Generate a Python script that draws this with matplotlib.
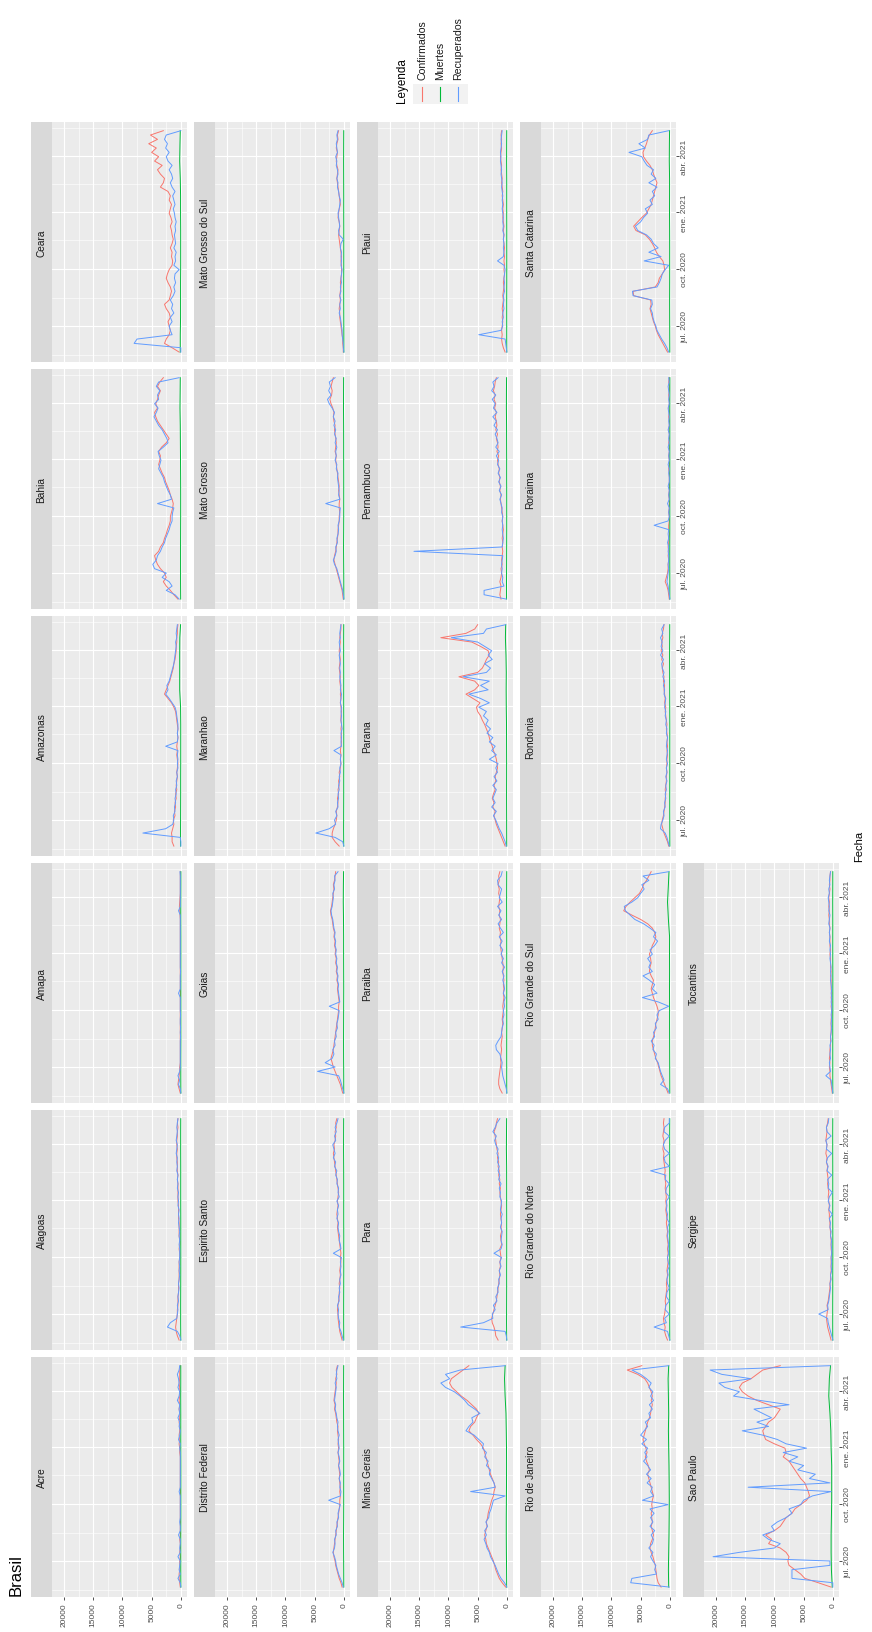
import matplotlib
matplotlib.use("Agg")
import matplotlib.pyplot as plt
import matplotlib.dates as mdates
from matplotlib.patches import Rectangle
from matplotlib.lines import Line2D
import numpy as np
import pandas as pd

plt.rcParams['font.family'] = ['Liberation Sans', 'DejaVu Sans']

# casos diarios, en miles, una muestra por semana
fechas = pd.date_range("2020-05-20", periods=52, freq="7D")
# muertes: una muestra cada 4 semanas + el ultimo dia
fechas_muertes = list(fechas[::4]) + [fechas[-1]]

series = ["Confirmados", "Muertes", "Recuperados"]
colores = ["#F8766D", "#00BA38", "#619CFF"]

conf_acre = [0.1,0.2,0.3,0.3,0.2,0.2,0.2,0.1,0.2,0.1,0.1,0.2,0.1,
             0.1,0.1,0.1,0.1,0.1,0.1,0.1,0.1,0.1,0.1,0.1,0.1,0.1,
             0.1,0.1,0.1,0.1,0.1,0.2,0.2,0.3,0.2,0.3,0.2,0.2,0.3,
             0.2,0.2,0.3,0.2,0.3,0.2,0.2,0.2,0.3,0.2,0.2,0.2,0.1]
rec_acre = [0.0,0.1,0.5,0.1,0.3,0.2,0.1,0.5,0.1,0.2,0.1,0.1,0.4,
            0.1,0.1,0.2,0.1,0.1,0.1,0.1,0.1,0.1,0.3,0.1,0.1,0.1,
            0.1,0.1,0.1,0.1,0.1,0.1,0.2,0.1,0.4,0.2,0.1,0.3,0.2,
            0.5,0.2,0.3,0.2,0.6,0.3,0.2,0.5,0.3,0.4,0.6,0.3,0.2]
muertes_acre = [0.0,0.01,0.01,0.01,0.0,0.0,0.0,0.0,0.01,0.01,0.01,0.02,0.01,0.01]

conf_alagoas = [0.3,0.6,0.8,0.9,0.8,0.7,0.6,0.6,0.5,0.5,0.5,0.4,0.4,
                0.4,0.3,0.3,0.3,0.3,0.3,0.2,0.2,0.3,0.2,0.2,0.3,0.3,
                0.3,0.3,0.4,0.4,0.4,0.4,0.5,0.5,0.5,0.5,0.5,0.6,0.5,
                0.6,0.6,0.6,0.7,0.7,0.6,0.7,0.7,0.6,0.6,0.5,0.6,0.5]
rec_alagoas = [0.0,0.2,0.6,2.3,1.8,0.7,0.6,0.5,0.6,0.4,0.5,0.4,0.3,
               0.4,0.3,0.2,0.3,0.2,0.3,0.2,0.2,0.2,0.3,0.2,0.3,0.2,
               0.3,0.4,0.3,0.4,0.3,0.5,0.4,0.5,0.4,0.6,0.5,0.6,0.5,
               0.7,0.6,0.7,0.6,0.8,0.7,0.6,0.8,0.7,0.6,0.7,0.6,0.5]
muertes_alagoas = [0.01,0.03,0.03,0.02,0.01,0.01,0.01,0.01,0.02,0.02,0.02,0.03,0.03,0.02]

conf_amapa = [0.1,0.3,0.5,0.4,0.3,0.2,0.2,0.1,0.1,0.1,0.1,0.1,0.1,
              0.1,0.1,0.1,0.1,0.1,0.1,0.1,0.1,0.1,0.1,0.1,0.1,0.1,
              0.1,0.1,0.1,0.1,0.1,0.1,0.1,0.1,0.1,0.1,0.1,0.1,0.1,
              0.1,0.1,0.15,0.2,0.25,0.2,0.15,0.1,0.1,0.1,0.1,0.1,0.1]
rec_amapa = [0.0,0.1,0.4,0.2,0.5,0.2,0.1,0.1,0.1,0.1,0.1,0.1,0.1,
             0.05,0.1,0.05,0.1,0.1,0.05,0.1,0.1,0.1,0.1,0.4,0.1,0.1,
             0.1,0.1,0.05,0.1,0.1,0.1,0.1,0.1,0.1,0.1,0.1,0.1,0.1,
             0.1,0.1,0.1,0.4,0.1,0.1,0.1,0.1,0.1,0.1,0.1,0.1,0.15]
muertes_amapa = [0.0,0.01,0.01,0.0,0.0,0.0,0.0,0.0,0.0,0.0,0.01,0.01,0.0,0.0]

conf_amazonas = [1.2,1.5,1.5,1.6,1.4,1.2,1.3,1.0,1.1,0.9,1.0,0.8,0.9,
                 0.7,0.8,0.7,0.6,0.7,0.6,0.5,0.6,0.7,0.6,0.7,0.6,0.5,
                 0.6,0.5,0.6,0.7,0.8,0.9,1.2,1.6,2.2,2.8,2.5,2.2,1.9,
                 1.7,1.5,1.3,1.2,1.0,0.9,0.8,0.8,0.7,0.7,0.6,0.6,0.5]
rec_amazonas = [0.0,0.0,0.1,6.5,2.6,1.4,1.2,1.3,1.0,1.1,0.9,1.0,0.8,
                0.9,0.7,0.8,0.6,0.7,0.5,0.6,0.5,0.6,0.5,2.6,0.6,0.5,
                0.6,0.5,0.5,0.6,0.7,0.8,1.0,1.5,2.0,2.6,2.2,2.4,2.0,
                1.8,1.6,1.4,1.2,1.1,1.0,0.9,0.8,0.9,0.7,0.8,0.7,0.6]
muertes_amazonas = [0.05,0.05,0.04,0.03,0.03,0.02,0.02,0.02,0.05,0.2,0.2,0.2,0.18,0.05]

conf_bahia = [0.5,1.2,1.8,2.5,3.0,2.5,2.8,3.5,4.0,4.3,4.5,3.8,3.5,
              3.0,2.8,2.5,2.3,2.0,1.8,1.8,1.6,1.4,1.3,1.5,1.8,2.0,
              2.3,2.6,2.8,3.2,3.5,3.8,3.6,3.5,3.8,3.3,2.5,2.0,2.5,
              3.0,3.5,4.0,4.3,4.5,4.0,4.3,4.0,3.8,3.5,4.0,3.6,3.0]
rec_bahia = [0.3,1.0,2.5,1.5,2.0,3.2,2.5,4.5,4.8,4.2,4.0,3.5,3.2,
             2.8,2.6,2.3,2.0,1.8,1.5,1.5,1.4,1.2,4.0,1.6,1.8,2.2,
             2.5,2.8,3.0,3.4,3.8,3.6,3.4,3.7,3.9,3.0,2.2,2.4,2.8,
             3.2,3.8,4.2,4.6,4.2,3.9,4.5,3.8,4.0,3.6,4.2,3.8,0.3]
muertes_bahia = [0.03,0.05,0.05,0.05,0.04,0.03,0.03,0.04,0.06,0.08,0.1,0.15,0.12,0.1]

conf_ceara = [0.3,1.5,2.8,2.5,2.0,1.8,2.0,2.2,1.8,2.0,2.5,2.8,2.0,
              1.8,1.6,1.8,2.2,2.5,2.3,2.0,1.5,1.4,1.6,1.5,1.8,1.5,
              1.3,1.5,1.6,1.8,1.5,1.7,2.0,1.8,1.6,2.0,1.8,2.2,3.5,
              3.0,2.8,3.5,4.0,3.2,4.5,3.8,5.0,4.2,5.5,4.0,5.2,3.0]
rec_ceara = [0.0,0.0,8.0,7.5,1.5,1.8,2.0,1.5,1.8,1.2,1.6,1.4,1.8,
             1.3,1.0,1.2,0.9,1.1,1.0,0.3,1.2,0.9,1.0,0.8,1.2,0.9,
             1.0,1.1,0.9,1.0,0.8,1.0,1.1,1.3,1.0,1.2,1.4,1.0,1.5,
             1.8,1.4,1.6,2.0,1.5,2.2,2.5,2.0,2.6,2.3,2.8,2.5,0.0]
muertes_ceara = [0.1,0.1,0.05,0.05,0.05,0.03,0.03,0.03,0.05,0.05,0.1,0.2,0.15,0.1]

conf_df = [0.3,0.5,0.8,1.0,1.2,1.4,1.5,1.7,1.8,1.7,1.6,1.5,1.4,
           1.3,1.2,1.1,1.0,0.9,0.8,0.7,0.7,0.6,0.7,0.6,0.7,0.8,
           0.7,0.8,0.9,0.8,0.9,1.0,0.9,1.0,0.9,1.0,1.1,1.0,1.2,
           1.3,1.4,1.6,1.5,1.7,1.6,1.5,1.4,1.3,1.4,1.2,1.3,1.1]
rec_df = [0.1,0.3,0.6,0.9,1.1,1.3,1.4,1.6,1.9,1.6,1.5,1.6,1.3,
          1.4,1.1,1.2,0.9,1.0,0.8,0.6,2.6,0.6,0.5,0.7,0.6,0.8,
          0.6,0.7,0.9,0.7,0.8,1.0,0.8,0.9,1.0,0.8,1.0,1.1,1.0,
          1.2,1.3,1.5,1.4,1.6,1.5,1.4,1.3,1.5,1.2,1.3,1.2,1.0]
muertes_df = [0.01,0.02,0.04,0.05,0.03,0.02,0.02,0.02,0.02,0.03,0.04,0.05,0.04,0.03]

conf_espirito_santo = [0.3,0.5,0.7,0.8,0.9,1.0,1.0,1.1,1.0,0.9,0.8,0.8,0.7,
                       0.8,0.7,0.6,0.7,0.6,0.5,0.6,0.5,0.6,0.7,0.8,0.9,1.0,
                       1.1,1.0,1.1,1.2,1.1,1.0,1.1,1.0,0.9,1.0,1.1,1.2,1.3,
                       1.4,1.5,1.6,1.7,1.8,1.6,1.7,1.5,1.4,1.5,1.3,1.4,1.2]
rec_espirito_santo = [0.1,0.3,0.5,0.8,0.7,0.9,1.0,0.9,1.1,0.8,0.9,0.7,0.8,
                      0.6,0.7,0.5,0.6,0.5,0.6,0.4,1.8,0.5,0.6,0.8,0.7,0.9,
                      1.0,0.9,1.2,1.0,1.1,0.9,1.2,0.8,1.0,0.9,1.2,1.1,1.4,
                      1.2,1.6,1.4,1.8,1.5,1.7,1.9,1.4,1.6,1.3,1.5,1.2,1.0]
muertes_espirito_santo = [0.01,0.03,0.03,0.02,0.01,0.01,0.01,0.02,0.02,0.02,0.03,0.05,0.04,0.03]

conf_goias = [0.2,0.4,0.6,0.9,1.2,1.5,1.8,2.0,2.2,2.0,1.8,1.7,1.6,
              1.5,1.4,1.3,1.2,1.1,1.0,0.9,0.9,0.8,0.9,1.0,1.1,1.0,
              1.2,1.1,1.3,1.2,1.4,1.3,1.5,1.4,1.6,1.5,1.7,1.6,1.8,
              1.9,2.0,2.2,2.3,2.1,2.0,1.9,1.8,1.7,1.8,1.6,1.5,1.4]
rec_goias = [0.0,0.2,0.4,0.6,0.9,4.5,1.5,3.2,2.0,1.7,1.9,1.5,1.6,
             1.3,1.4,1.1,1.2,1.0,0.9,0.8,2.5,0.7,0.8,0.9,1.0,0.9,
             1.1,1.0,1.2,1.1,1.3,1.2,1.4,1.3,1.5,1.4,1.6,1.5,1.7,
             1.8,1.9,2.1,2.2,2.0,1.9,1.8,1.9,1.6,1.7,1.5,1.6,1.0]
muertes_goias = [0.01,0.02,0.04,0.05,0.04,0.03,0.02,0.03,0.04,0.04,0.06,0.1,0.08,0.05]

conf_maranhao = [0.8,1.5,2.0,2.0,1.8,1.5,1.3,1.2,1.3,1.1,1.0,1.1,0.9,
                 1.0,0.8,0.9,0.7,0.8,0.6,0.5,0.6,0.5,0.6,0.5,0.4,0.5,
                 0.4,0.5,0.4,0.5,0.5,0.4,0.5,0.6,0.5,0.6,0.5,0.6,0.7,
                 0.6,0.7,0.8,0.7,0.6,0.7,0.8,0.7,0.6,0.7,0.6,0.5,0.5]
rec_maranhao = [0.0,0.2,1.5,4.8,2.5,1.4,1.6,1.2,1.4,1.0,1.1,0.9,1.0,
                0.8,0.9,0.7,0.8,0.6,0.7,0.5,0.6,0.5,1.7,0.4,0.5,0.4,
                0.5,0.3,0.4,0.5,0.4,0.5,0.4,0.6,0.5,0.4,0.6,0.5,0.6,
                0.7,0.6,0.7,0.6,0.7,0.8,0.6,0.7,0.8,0.6,0.7,0.6,0.5]
muertes_maranhao = [0.02,0.04,0.03,0.02,0.02,0.01,0.01,0.01,0.02,0.02,0.02,0.03,0.03,0.02]

conf_mato_grosso = [0.1,0.2,0.3,0.5,0.7,0.9,1.1,1.3,1.5,1.7,1.6,1.4,1.3,
                    1.2,1.1,1.0,1.0,0.9,0.8,0.8,0.7,0.8,0.8,0.7,0.8,0.9,
                    0.8,0.9,1.0,1.1,1.2,1.3,1.4,1.3,1.5,1.4,1.3,1.4,1.5,
                    1.6,1.5,1.7,1.8,1.7,1.9,2.2,2.4,2.1,2.0,2.2,2.0,1.8]
rec_mato_grosso = [0.0,0.1,0.2,0.4,0.6,0.8,1.0,1.2,1.6,1.8,1.5,1.3,1.4,
                   1.1,1.2,1.0,0.9,1.0,0.8,0.7,0.7,0.6,3.1,0.7,0.9,0.8,
                   0.9,1.0,1.1,1.0,1.3,1.2,1.5,1.3,1.4,1.2,1.5,1.3,1.6,
                   1.4,1.7,1.5,1.8,1.6,2.0,2.5,2.8,2.2,2.6,2.3,2.5,1.5]
muertes_mato_grosso = [0.0,0.01,0.03,0.05,0.03,0.02,0.02,0.02,0.03,0.03,0.04,0.06,0.05,0.04]

conf_mgds = [0.1,0.1,0.2,0.2,0.3,0.4,0.5,0.6,0.7,0.7,0.8,0.7,0.6,
             0.7,0.6,0.5,0.6,0.5,0.4,0.4,0.4,0.5,0.4,0.5,0.6,0.7,
             0.8,0.9,0.8,0.7,0.8,1.0,0.9,0.8,0.6,0.7,0.8,0.9,1.0,
             1.1,1.2,1.1,1.0,1.2,1.3,1.2,1.1,1.3,1.2,1.0,1.1,0.9]
rec_mgds = [0.0,0.1,0.1,0.2,0.3,0.3,0.4,0.5,0.6,0.8,0.6,0.7,0.5,
            0.7,0.5,0.6,0.4,0.5,0.4,0.3,0.5,0.4,0.5,0.4,0.6,0.5,
            0.1,0.8,0.9,0.7,0.8,0.9,1.0,0.8,0.7,0.6,0.8,0.9,1.1,
            1.0,1.2,1.0,1.1,1.3,1.2,1.4,1.1,1.2,1.3,1.1,1.2,1.0]
muertes_mgds = [0.0,0.0,0.01,0.02,0.02,0.01,0.01,0.01,0.02,0.02,0.03,0.04,0.03,0.02]

conf_minas = [0.2,0.8,1.3,1.6,1.9,2.1,2.3,2.6,2.9,3.2,3.5,3.6,3.8,
              3.6,3.4,3.5,3.3,3.2,3.0,2.8,2.6,2.3,2.2,2.0,2.2,2.5,
              2.8,3.0,3.2,3.4,3.6,3.8,4.0,4.5,5.2,5.8,6.5,6.2,5.5,
              5.2,4.8,5.2,6.0,6.8,7.8,8.6,9.4,9.8,9.5,8.5,7.5,6.5]
rec_minas = [0.0,0.4,1.0,1.4,1.7,2.0,2.4,2.8,3.0,3.4,3.6,3.9,3.5,
             3.8,3.3,3.6,3.1,3.0,2.7,2.5,2.3,0.3,6.2,2.0,2.2,2.6,
             3.0,2.8,3.5,3.2,3.8,3.5,4.2,4.0,4.8,5.6,7.0,6.5,5.8,
             6.0,4.6,5.5,6.6,7.2,8.0,9.0,10.5,11.3,9.8,10.5,8.0,0.3]
muertes_minas = [0.03,0.05,0.08,0.1,0.1,0.08,0.06,0.05,0.06,0.1,0.15,0.3,0.4,0.3]

conf_para = [1.5,1.9,2.0,2.2,2.5,2.6,2.4,2.2,2.0,1.8,1.7,1.6,1.5,
             1.4,1.3,1.2,1.3,1.1,1.2,1.0,1.1,1.2,0.9,1.0,1.1,0.9,
             1.0,0.9,1.0,1.1,1.0,0.9,1.0,1.1,1.2,1.1,1.3,1.2,1.4,
             1.3,1.5,1.4,1.6,1.5,1.7,1.8,1.9,2.0,2.2,1.9,1.8,1.6]
rec_para = [0.0,0.1,0.3,7.9,4.0,2.4,2.5,2.0,2.3,1.7,1.9,1.5,1.6,
            1.3,1.4,1.1,1.3,1.0,1.2,0.9,2.2,1.0,0.8,1.0,0.9,0.8,
            1.1,0.9,1.0,0.8,1.1,1.0,0.9,1.2,1.1,1.3,1.0,1.4,1.2,
            1.5,1.3,1.6,1.4,1.7,1.5,1.9,2.1,1.8,2.4,2.0,1.7,1.2]
muertes_para = [0.02,0.05,0.04,0.03,0.03,0.02,0.02,0.02,0.03,0.03,0.04,0.08,0.06,0.04]

conf_paraiba = [0.8,1.2,1.4,1.4,1.3,1.2,1.1,1.0,1.1,1.0,0.9,1.0,0.9,
                0.8,0.9,0.8,0.7,0.8,0.7,0.6,0.7,0.6,0.5,0.6,0.5,0.6,
                0.5,0.6,0.7,0.6,0.7,0.8,0.9,1.0,1.1,1.0,1.2,1.1,1.3,
                1.2,1.1,1.3,1.2,1.4,1.3,1.2,1.4,1.3,1.5,1.3,1.4,1.2]
rec_paraiba = [0.0,0.1,0.3,0.5,0.7,0.8,0.9,0.8,1.0,1.2,1.8,1.9,1.5,
               1.0,0.9,0.8,0.6,0.7,0.5,0.6,0.4,0.5,0.3,0.6,0.4,0.5,
               0.7,0.5,0.8,0.4,0.9,0.6,1.0,0.7,1.2,0.8,1.3,0.6,1.1,
               1.5,0.9,1.4,1.0,1.6,0.8,1.3,1.1,0.9,1.5,1.6,1.0,0.8]
muertes_paraiba = [0.01,0.02,0.02,0.02,0.01,0.01,0.01,0.01,0.02,0.02,0.03,0.04,0.03,0.02]

conf_parana = [0.3,0.6,0.9,1.2,1.5,1.8,2.0,2.2,2.0,2.4,2.2,2.5,2.3,
               2.0,2.2,1.9,2.0,1.8,1.6,1.7,1.8,2.0,2.3,2.5,2.8,3.0,
               3.2,3.5,3.8,4.2,4.5,5.0,5.2,4.6,5.8,7.0,5.5,4.8,5.5,
               8.2,5.0,4.2,3.8,3.5,3.0,3.2,4.5,6.0,11.3,7.0,5.5,5.0]
rec_parana = [0.1,0.3,0.6,0.9,1.3,1.6,1.9,2.3,1.8,2.6,2.0,2.4,2.1,
              1.8,2.4,1.7,2.2,1.6,1.9,1.5,3.0,1.8,2.6,2.0,3.0,2.4,
              3.4,2.8,3.6,3.2,4.0,3.5,4.8,3.0,4.5,6.5,3.2,4.5,3.0,
              7.5,3.5,2.8,3.8,2.5,3.2,2.6,3.8,5.0,9.5,4.0,3.5,0.2]
muertes_parana = [0.02,0.03,0.04,0.05,0.04,0.04,0.05,0.06,0.1,0.12,0.1,0.15,0.25,0.2]

conf_pernambuco = [1.0,1.2,1.1,1.0,1.2,1.0,0.9,1.0,0.8,0.9,0.8,0.7,0.8,
                   0.7,0.8,0.7,0.6,0.7,0.8,0.7,0.8,0.9,1.0,1.1,1.0,1.2,
                   1.1,1.3,1.2,1.4,1.3,1.5,1.6,1.4,1.7,1.5,1.6,1.8,1.6,
                   1.9,1.7,1.8,2.0,1.8,2.1,1.9,2.2,2.0,2.3,2.1,2.0,1.8]
rec_pernambuco = [0.1,3.9,3.9,0.5,0.8,0.7,0.9,0.8,0.9,0.8,0.7,15.9,0.8,
                  0.7,0.6,0.7,0.8,0.7,0.8,0.7,0.9,0.8,1.0,1.2,0.9,1.3,
                  1.0,1.4,1.1,1.5,1.2,1.6,1.4,1.8,1.3,1.9,1.5,1.7,2.0,
                  1.6,2.2,1.8,2.4,1.7,2.3,2.0,2.5,1.9,2.6,2.2,2.4,1.5]
muertes_pernambuco = [0.05,0.06,0.04,0.03,0.02,0.02,0.02,0.03,0.03,0.04,0.05,0.08,0.07,0.05]

conf_piaui = [0.3,0.6,0.8,0.9,0.8,0.9,0.8,0.7,0.8,0.7,0.8,0.7,0.6,
              0.7,0.6,0.5,0.6,0.5,0.4,0.5,0.4,0.5,0.4,0.5,0.4,0.5,
              0.6,0.5,0.6,0.5,0.6,0.7,0.6,0.7,0.6,0.7,0.8,0.7,0.8,
              0.9,0.8,0.9,1.0,0.9,1.0,1.1,1.0,0.9,1.0,0.9,1.0,0.9]
rec_piaui = [0.0,0.1,0.2,0.3,4.8,1.0,0.7,0.8,0.6,0.7,0.5,0.6,0.5,
             0.6,0.4,0.5,0.4,0.5,0.4,0.3,0.5,1.6,0.6,0.5,0.6,0.5,
             0.6,0.5,0.7,0.6,0.7,0.6,0.7,0.8,0.7,0.8,0.7,0.8,0.9,
             0.8,0.9,1.0,0.9,1.0,1.1,1.0,1.1,1.0,0.9,1.0,0.9,0.8]
muertes_piaui = [0.01,0.02,0.02,0.02,0.01,0.01,0.01,0.01,0.02,0.02,0.02,0.04,0.03,0.02]

conf_rio = [1.5,2.0,2.2,2.3,2.4,2.5,2.7,2.9,3.2,3.4,3.3,3.0,2.8,
            3.0,3.2,3.0,3.1,3.2,3.0,3.1,3.0,2.8,3.0,3.2,3.4,3.6,
            3.8,3.5,3.7,4.0,4.2,3.9,4.1,4.4,4.6,4.4,4.2,4.0,3.8,
            3.5,3.3,3.2,3.0,3.2,3.0,3.2,3.5,3.8,4.3,5.5,7.3,4.8]
rec_rio = [0.1,6.7,6.5,2.3,2.6,2.4,2.9,3.3,2.9,3.6,3.0,2.8,3.2,
           2.6,3.4,2.9,3.3,2.7,3.4,0.3,4.7,2.8,3.3,3.0,3.9,3.2,
           4.0,3.3,3.8,4.5,3.9,4.3,3.8,4.8,4.0,5.0,4.4,3.8,4.2,
           3.3,3.6,3.0,3.5,2.8,3.3,2.9,3.6,3.2,4.0,5.0,6.5,0.2]
muertes_rio = [0.2,0.25,0.2,0.15,0.12,0.1,0.12,0.15,0.2,0.25,0.2,0.25,0.3,0.2]

conf_rgn = [0.4,0.7,0.9,0.8,1.0,1.1,0.9,0.8,0.7,0.8,0.7,0.6,0.5,
            0.6,0.5,0.4,0.5,0.4,0.3,0.4,0.3,0.4,0.3,0.4,0.5,0.4,
            0.5,0.6,0.5,0.6,0.7,0.6,0.7,0.6,0.7,0.8,0.7,0.8,0.9,
            0.8,0.9,1.0,1.1,1.0,1.2,1.1,1.0,1.2,1.1,1.0,1.1,1.0]
rec_rgn = [0.0,0.2,0.4,2.7,0.6,0.9,0.1,0.8,0.7,0.1,0.6,0.5,0.1,
           0.4,0.5,0.3,0.4,0.1,0.3,0.4,0.2,0.3,0.2,0.3,0.4,0.3,
           0.4,0.1,0.5,0.4,0.6,0.5,0.6,0.1,0.7,0.6,0.1,0.8,0.7,
           3.3,0.1,0.8,1.0,0.1,0.9,1.1,0.8,0.1,1.0,0.9,0.1,0.1]
muertes_rgn = [0.01,0.02,0.02,0.01,0.01,0.01,0.01,0.01,0.02,0.02,0.02,0.03,0.03,0.02]

conf_rgs = [0.3,0.6,0.9,1.2,1.5,1.7,1.9,2.1,2.4,2.6,2.8,3.0,3.0,
            2.8,2.6,2.5,2.4,2.2,2.0,2.0,2.2,2.5,2.8,3.0,3.2,3.0,
            2.8,3.2,3.5,3.4,3.2,3.3,3.5,3.2,3.0,2.6,2.4,2.6,3.0,
            3.8,5.0,6.5,7.9,7.5,6.8,6.0,5.2,4.8,4.5,4.0,3.6,3.2]
rec_rgs = [0.1,0.4,1.6,1.0,1.3,1.6,1.8,2.0,2.5,2.3,2.9,2.7,3.2,
           2.6,2.8,2.3,2.5,2.0,2.2,1.8,0.2,2.0,4.7,2.2,3.0,2.6,
           3.5,4.6,3.0,3.6,3.3,3.8,3.0,3.4,2.6,2.1,2.8,2.4,3.4,
           4.5,6.0,6.8,7.6,7.8,6.5,5.5,5.0,4.4,4.8,3.6,4.6,0.2]
muertes_rgs = [0.01,0.02,0.03,0.04,0.05,0.05,0.06,0.05,0.06,0.05,0.25,0.4,0.25,0.15]

conf_rondonia = [0.2,0.4,0.7,1.0,1.2,1.4,1.3,1.1,1.0,0.9,0.8,0.8,0.7,
                 0.8,0.7,0.6,0.6,0.5,0.6,0.5,0.5,0.4,0.5,0.4,0.5,0.4,
                 0.5,0.6,0.5,0.6,0.7,0.8,0.7,0.9,0.8,0.9,1.0,0.9,1.1,
                 1.0,1.2,1.3,1.1,1.4,1.2,1.5,1.3,1.4,1.2,1.3,1.1,1.0]
rec_rondonia = [0.1,0.3,0.5,0.8,1.6,1.5,1.2,1.0,1.1,0.8,0.9,0.7,0.8,
                0.6,0.7,0.5,0.7,0.5,0.6,0.4,0.6,0.5,0.4,0.6,0.5,0.4,
                0.6,0.5,0.7,0.6,0.8,0.7,0.9,0.8,0.7,1.0,0.9,1.1,0.9,
                1.2,1.0,1.3,1.4,1.1,1.6,1.2,1.5,1.3,1.6,1.2,1.4,1.0]
muertes_rondonia = [0.0,0.01,0.02,0.02,0.01,0.01,0.01,0.01,0.02,0.03,0.04,0.05,0.03,0.02]

conf_roraima = [0.1,0.2,0.3,0.5,0.8,0.6,0.4,0.3,0.3,0.2,0.3,0.2,0.3,
                0.2,0.2,0.1,0.2,0.2,0.1,0.1,0.2,0.1,0.1,0.1,0.2,0.1,
                0.1,0.1,0.1,0.1,0.2,0.1,0.1,0.2,0.1,0.1,0.2,0.1,0.1,
                0.2,0.1,0.1,0.2,0.1,0.2,0.1,0.1,0.2,0.1,0.1,0.2,0.1]
rec_roraima = [0.0,0.1,0.2,0.3,0.5,0.4,0.3,0.2,0.3,0.2,0.2,0.3,0.2,
               0.4,0.2,0.3,0.2,2.7,0.3,0.1,0.2,0.1,0.4,0.1,0.2,0.1,
               0.3,0.1,0.1,0.2,0.1,0.3,0.1,0.2,0.1,0.3,0.1,0.2,0.1,
               0.3,0.1,0.2,0.1,0.2,0.3,0.1,0.2,0.1,0.2,0.3,0.1,0.2]
muertes_roraima = [0.0,0.0,0.01,0.01,0.0,0.0,0.0,0.0,0.0,0.0,0.0,0.01,0.0,0.0]

conf_santa_catarina = [0.4,0.8,1.2,1.6,2.0,2.3,2.5,2.8,3.0,3.2,3.4,3.2,3.3,
                       6.2,6.3,2.5,2.0,1.8,1.3,0.9,1.0,1.2,1.8,2.3,2.6,3.0,
                       3.5,4.2,5.8,6.2,5.5,4.8,4.0,3.6,3.2,3.0,2.8,2.6,2.4,
                       2.2,2.5,2.8,3.0,3.4,4.0,4.5,4.6,4.3,4.0,3.8,3.5,3.0]
rec_santa_catarina = [0.2,0.5,0.9,1.4,1.8,2.2,2.4,2.7,2.9,3.0,3.3,3.0,3.1,
                      6.3,6.4,2.2,1.8,1.5,1.3,0.8,0.2,4.4,1.5,3.6,2.0,2.8,
                      3.2,4.0,5.5,5.9,5.0,4.5,3.8,4.2,3.0,3.4,2.6,3.0,2.2,
                      3.6,2.4,3.2,2.8,3.9,4.4,4.8,7.0,4.2,5.3,3.8,3.6,0.2]
muertes_santa_catarina = [0.01,0.02,0.03,0.04,0.03,0.03,0.03,0.04,0.06,0.05,0.05,0.1,0.08,0.05]

conf_sao_paulo = [0.3,2.5,4.8,5.5,6.5,7.5,7.7,7.5,8.0,9.0,11.0,10.5,11.5,
                  10.0,9.0,8.5,8.0,7.0,6.5,5.5,4.5,4.0,4.2,4.5,4.8,5.5,
                  6.0,6.5,7.0,7.5,8.5,8.0,8.2,10.0,11.5,11.8,12.0,11.5,11.0,
                  10.0,9.5,9.0,11.0,13.0,14.5,15.5,16.0,15.5,14.0,13.0,12.0,9.0]
rec_sao_paulo = [0.0,0.0,7.0,7.0,7.0,0.5,0.5,20.5,16.0,10.0,9.0,11.0,12.0,
                 10.0,10.5,9.5,8.0,7.0,7.5,5.5,5.0,3.5,0.3,14.5,0.5,4.0,
                 3.0,6.0,5.0,7.5,6.0,8.5,4.5,8.0,9.5,12.0,15.5,11.0,13.0,
                 10.5,12.0,13.5,7.5,12.5,17.0,16.0,18.5,19.5,14.0,19.0,21.0,0.5]
muertes_sao_paulo = [0.1,0.25,0.3,0.3,0.25,0.2,0.2,0.2,0.3,0.35,0.5,0.7,0.6,0.4]

conf_sergipe = [0.3,0.5,0.7,0.9,1.0,1.1,1.0,0.9,1.0,0.8,0.7,0.6,0.5,
                0.5,0.4,0.4,0.3,0.3,0.3,0.3,0.2,0.3,0.3,0.3,0.4,0.4,
                0.5,0.5,0.6,0.6,0.7,0.6,0.7,0.8,0.7,0.8,0.9,0.8,0.9,
                1.0,0.9,1.1,1.0,1.2,1.1,1.0,1.2,1.1,1.0,1.1,0.9,0.8]
rec_sergipe = [0.0,0.2,0.4,0.6,0.8,0.9,2.4,0.8,0.9,0.7,0.6,0.5,0.4,
               0.5,0.3,0.4,0.2,0.3,0.2,0.3,0.2,0.2,0.3,0.2,0.4,0.3,
               0.5,0.4,0.6,0.1,0.7,0.5,0.8,0.6,0.1,0.8,0.7,0.9,0.2,
               1.0,0.8,1.1,0.9,0.2,1.1,1.0,1.2,0.3,1.0,1.1,0.8,0.7]
muertes_sergipe = [0.01,0.02,0.02,0.01,0.01,0.0,0.0,0.01,0.01,0.01,0.01,0.02,0.02,0.01]

conf_tocantins = [0.1,0.2,0.3,0.4,0.5,0.5,0.6,0.5,0.6,0.5,0.5,0.4,0.4,
                  0.4,0.3,0.3,0.3,0.3,0.2,0.2,0.3,0.2,0.3,0.2,0.3,0.3,
                  0.3,0.4,0.3,0.4,0.4,0.4,0.5,0.4,0.5,0.5,0.5,0.6,0.5,
                  0.6,0.6,0.7,0.6,0.7,0.6,0.7,0.6,0.5,0.6,0.5,0.5,0.4]
rec_tocantins = [0.0,0.1,0.2,0.3,1.2,0.4,0.5,0.6,0.4,0.5,0.4,0.5,0.3,
                 0.4,0.3,0.2,0.3,0.2,0.3,0.2,0.2,0.3,0.2,0.3,0.2,0.3,
                 0.4,0.3,0.4,0.3,0.4,0.5,0.4,0.5,0.4,0.6,0.5,0.6,0.5,
                 0.7,0.6,0.5,0.7,0.6,0.7,0.8,0.6,0.7,0.5,0.6,0.5,0.4]
muertes_tocantins = [0.0,0.01,0.01,0.01,0.01,0.0,0.0,0.0,0.01,0.01,0.01,0.02,0.01,0.01]

estados = [
    ("Acre", conf_acre, rec_acre, muertes_acre),
    ("Alagoas", conf_alagoas, rec_alagoas, muertes_alagoas),
    ("Amapa", conf_amapa, rec_amapa, muertes_amapa),
    ("Amazonas", conf_amazonas, rec_amazonas, muertes_amazonas),
    ("Bahia", conf_bahia, rec_bahia, muertes_bahia),
    ("Ceara", conf_ceara, rec_ceara, muertes_ceara),
    ("Distrito Federal", conf_df, rec_df, muertes_df),
    ("Espirito Santo", conf_espirito_santo, rec_espirito_santo, muertes_espirito_santo),
    ("Goias", conf_goias, rec_goias, muertes_goias),
    ("Maranhao", conf_maranhao, rec_maranhao, muertes_maranhao),
    ("Mato Grosso", conf_mato_grosso, rec_mato_grosso, muertes_mato_grosso),
    ("Mato Grosso do Sul", conf_mgds, rec_mgds, muertes_mgds),
    ("Minas Gerais", conf_minas, rec_minas, muertes_minas),
    ("Para", conf_para, rec_para, muertes_para),
    ("Paraiba", conf_paraiba, rec_paraiba, muertes_paraiba),
    ("Parana", conf_parana, rec_parana, muertes_parana),
    ("Pernambuco", conf_pernambuco, rec_pernambuco, muertes_pernambuco),
    ("Piaui", conf_piaui, rec_piaui, muertes_piaui),
    ("Rio de Janeiro", conf_rio, rec_rio, muertes_rio),
    ("Rio Grande do Norte", conf_rgn, rec_rgn, muertes_rgn),
    ("Rio Grande do Sul", conf_rgs, rec_rgs, muertes_rgs),
    ("Rondonia", conf_rondonia, rec_rondonia, muertes_rondonia),
    ("Roraima", conf_roraima, rec_roraima, muertes_roraima),
    ("Santa Catarina", conf_santa_catarina, rec_santa_catarina, muertes_santa_catarina),
    ("Sao Paulo", conf_sao_paulo, rec_sao_paulo, muertes_sao_paulo),
    ("Sergipe", conf_sergipe, rec_sergipe, muertes_sergipe),
    ("Tocantins", conf_tocantins, rec_tocantins, muertes_tocantins),
]

for nombre, c, r, m in estados:
    assert len(c) == 52 and len(r) == 52 and len(m) == 14, (nombre, len(c), len(r), len(m))

ticks_valor = [0, 5000, 10000, 15000, 20000]
ticks_fecha = ["2020-07-01", "2020-10-01", "2021-01-01", "2021-04-01"]
etiquetas_fecha = ["jul. 2020", "oct. 2020", "ene. 2021", "abr. 2021"]
minor_fecha = ["2020-05-16", "2020-08-16", "2020-11-16", "2021-02-15", "2021-05-16"]

# la figura es la version girada 90 grados de un facet_wrap de 5 x 6
W, H = 872, 1633
fig = plt.figure(figsize=(W / 100, H / 100), dpi=100)


def fx(px):
    return px / W


def fy(py):
    return 1 - py / H


d2n = lambda lst: mdates.date2num([pd.Timestamp(s) for s in lst])

for n, (nombre, conf, rec, muertes) in enumerate(estados):
    orow, ocol = divmod(n, 6)
    k = orow
    rr = 5 - ocol
    x0 = 31 + 163 * k
    y0 = 123 + 247 * rr

    strip = fig.add_axes([fx(x0), fy(y0 + 240), 21 / W, 240 / H])
    strip.set_facecolor("#D9D9D9")
    strip.set_xticks([])
    strip.set_yticks([])
    for s in strip.spines.values():
        s.set_visible(False)
    strip.text(0.5, 0.5, nombre, rotation=90, ha="center", va="center",
               fontsize=7.3, color="#1A1A1A", transform=strip.transAxes)

    ax = fig.add_axes([fx(x0 + 21), fy(y0 + 240), 135 / W, 240 / H])
    ax.set_facecolor("#EBEBEB")
    for s in ax.spines.values():
        s.set_visible(False)

    ax.plot(np.array(conf) * 1000, fechas, color=colores[0], lw=0.7)
    ax.plot(np.array(muertes) * 1000, fechas_muertes, color=colores[1], lw=0.7)
    ax.plot(np.array(rec) * 1000, fechas, color=colores[2], lw=0.7)

    ax.set_xlim(22050, -1050)
    ax.set_ylim(d2n(["2020-05-04", "2021-05-26"]))

    ax.set_xticks(ticks_valor)
    ax.set_xticklabels([str(v) for v in ticks_valor])
    ax.set_xticks([2500, 7500, 12500, 17500], minor=True)
    ax.set_yticks(d2n(ticks_fecha))
    ax.set_yticklabels(etiquetas_fecha)
    ax.set_yticks(d2n(minor_fecha), minor=True)

    ax.grid(True, which="major", color="white", lw=0.85)
    ax.grid(True, which="minor", color="white", lw=0.4)
    ax.set_axisbelow(True)

    ax.tick_params(which="both", length=0, labelbottom=False, labelleft=False,
                   bottom=False, left=False)
    if ocol == 0:
        ax.tick_params(axis="x", which="major", bottom=True, length=2.4, width=0.6,
                       color="#333333", labelbottom=True, labelrotation=90,
                       labelsize=6.0, labelcolor="#4D4D4D", pad=1.5)
    if orow == 4 or (orow == 3 and ocol >= 3):
        ax.tick_params(axis="y", which="major", right=True, length=2.4, width=0.6,
                       color="#333333", labelright=True, labelrotation=90,
                       labelsize=6.0, labelcolor="#4D4D4D", pad=1.5)
        for t in ax.get_yticklabels():
            t.set_verticalalignment("center")

# titulo y eje
fig.text(fx(16), fy(1596), "Brasil", rotation=90, ha="center", va="bottom",
         fontsize=12, color="black")
fig.text(fx(859), fy(846), "Fecha", rotation=90, ha="center", va="center",
         fontsize=8, color="black")

# leyenda
fig.text(fx(402), fy(103), "Leyenda", rotation=90, ha="center", va="bottom",
         fontsize=8.4, color="black")
fig.patches.append(Rectangle((fx(413), fy(105)), 55 / W, 20 / H, transform=fig.transFigure,
                             facecolor="#F2F2F2", edgecolor="none"))
for xc, lab, col in zip([422, 440, 458], series, colores):
    fig.add_artist(Line2D([fx(xc), fx(xc)], [fy(102), fy(88)], transform=fig.transFigure,
                          color=col, lw=0.8))
    fig.text(fx(xc), fy(80), lab, rotation=90, ha="center", va="bottom",
             fontsize=7.6, color="#1A1A1A")

fig.savefig("out.png", dpi=100, facecolor="white")
